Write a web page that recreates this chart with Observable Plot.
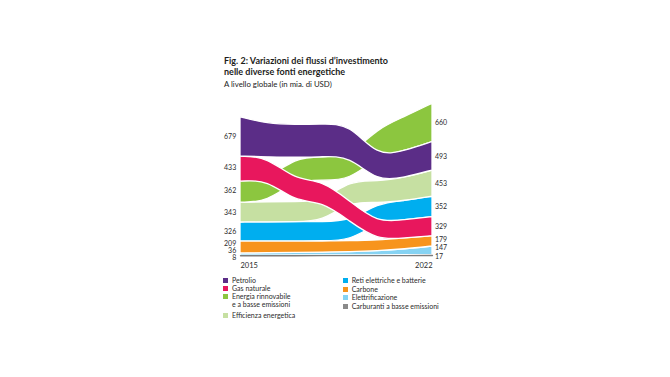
<!DOCTYPE html>
<html><head><meta charset="utf-8">
<script src="https://cdn.jsdelivr.net/npm/d3@7"></script>
<script src="https://cdn.jsdelivr.net/npm/@observablehq/plot@0.6"></script>
<style>
body{margin:0;background:#fff;font-family:Lato,"Open Sans",sans-serif;}
#wrap{position:relative;width:670px;height:377px;overflow:hidden;background:#fff}
.t{position:absolute;left:224px;color:#1d1d1b;white-space:nowrap}
#title{top:54.6px;font-weight:700;font-size:9px;line-height:11px}
#sub{top:79.5px;font-size:7.8px;line-height:9px;color:#222}
#chart{position:absolute;left:0;top:92px}
#chart svg{background:transparent;overflow:visible}
.lg{position:absolute;font-size:7px;color:#2b2b2b;line-height:7px;white-space:nowrap}
.sw{position:absolute;width:5px;height:5px}
</style></head><body>
<div id="wrap">
  <div id="title" class="t">Fig. 2: Variazioni dei flussi d’investimento<br>nelle diverse fonti energetiche</div>
  <div id="sub" class="t">A livello globale (in mia. di USD)</div>
  <div id="chart"></div>
  <div id="legend"></div>
</div>
<script>
// ---- data (mia. di USD) ----
const years = [2015, 2016, 2017, 2018, 2019, 2020, 2021, 2022];
const categories = [
  "Petrolio", "Gas naturale", "Energia rinnovabile e a basse emissioni", "Efficienza energetica",
  "Reti elettriche e batterie", "Carbone", "Elettrificazione", "Carburanti a basse emissioni"
];
const petrolio         = [679, 575, 570, 565, 560, 430, 459, 493];
const gasNaturale      = [433, 395, 375, 365, 350, 300, 316, 329];
const rinnovabile      = [362, 385, 390, 405, 415, 487, 590, 660];
const efficienza       = [343, 343, 345, 350, 362, 373, 400, 453];
const reti             = [326, 330, 330, 332, 335, 340, 330, 352];
const carbone          = [209, 205, 200, 195, 190, 185, 190, 179];
const elettrificazione = [36, 40, 45, 50, 55, 70, 100, 147];
const carburanti       = [8, 8, 9, 10, 10, 10, 14, 17];
const yearLabels = [2015, 2022];

// styles
const colors = ["#5b2d87", "#e8175d", "#8cc63f", "#c6e0a2", "#00aeef", "#f7941d", "#86d3f3", "#8a8a8a"];
const legendLeft = [
  {i: 0, lines: ["Petrolio"], y: 280.8},
  {i: 1, lines: ["Gas naturale"], y: 288.8},
  {i: 2, lines: ["Energia rinnovabile", "e a basse emissioni"], y: 296.8},
  {i: 3, lines: ["Efficienza energetica"], y: 315.3}
];
const legendRight = [
  {i: 4, lines: ["Reti elettriche e batterie"], y: 280.8},
  {i: 5, lines: ["Carbone"], y: 289.3},
  {i: 6, lines: ["Elettrificazione"], y: 297.7},
  {i: 7, lines: ["Carburanti a basse emissioni"], y: 306.3}
];

// ---- per-year ribbon stacking (largest on top) ----
const series = [petrolio, gasNaturale, rinnovabile, efficienza, reti, carbone, elettrificazione, carburanti];
const rows = [];
years.forEach((yr, i) => {
  const vals = categories.map((c, k) => ({cat: c, year: yr, value: series[k][i], k}));
  const sorted = vals.slice().sort((a, b) => a.value - b.value);
  let acc = 0;
  for (const v of sorted) { v.y1 = acc; acc += v.value; v.y2 = acc; v.mid = (v.y1 + v.y2) / 2; }
  rows.push(...vals);
});
// draw order: bottom categories first, Petrolio last (on top at crossings)
rows.sort((a, b) => (b.k - a.k) || (a.year - b.year));

const W = 670, H = 180;
const yTop = 11.3, yBottom = 163.5;
const maxTotal = d3.max(years.map((_, i) => d3.sum(series, s => s[i])));

const leftNudge = {"Gas naturale": -1, "Energia rinnovabile e a basse emissioni": -1.5, "Carbone": -3.6, "Elettrificazione": -3.7, "Carburanti a basse emissioni": 2};
const rightNudge = {"Carbone": -1.8, "Elettrificazione": -2.6, "Carburanti a basse emissioni": 1};

const labelMarks = (yr, anchor, dx, nudge) => categories.map(c =>
  Plot.text(rows.filter(d => d.year === yr && d.cat === c), {
    x: "year", y: "mid", text: d => String(d.value), textAnchor: anchor, dx, dy: nudge[c] || 0,
    fontSize: 7, fill: "#2b2b2b", fontFamily: "Lato"
  })
);

const plot = Plot.plot({
  width: W, height: H,
  marginLeft: 240, marginRight: W - 432, marginTop: yTop, marginBottom: H - yBottom,
  x: {type: "linear", domain: [years[0], years[years.length - 1]], axis: null},
  y: {domain: [0, maxTotal], axis: null},
  color: {domain: categories, range: colors},
  style: {background: "transparent", fontFamily: "Lato"},
  marks: [
    Plot.areaY(rows, {x: "year", y1: "y1", y2: "y2", z: "cat", fill: "cat",
      stroke: "white", strokeWidth: 1.3, curve: "basis"}),
    Plot.lineY(rows.filter(d => d.cat === categories[7]), {x: "year", y: "mid",
      stroke: "#7d7d7d", strokeWidth: 1.3, curve: "basis"}),
    ...labelMarks(years[0], "end", -4.3, leftNudge),
    ...labelMarks(years[years.length - 1], "start", 2.5, rightNudge),
    Plot.text([yearLabels[0]], {x: d => d, y: 0, text: d => String(d), textAnchor: "start", dy: 9.5,
      fontSize: 7.5, fill: "#2b2b2b"}),
    Plot.text([yearLabels[1]], {x: d => d, y: 0, text: d => String(d), textAnchor: "end", dy: 9.5,
      fontSize: 7.5, fill: "#2b2b2b"})
  ]
});
document.getElementById("chart").appendChild(plot);

// ---- legend ----
const lg = document.getElementById("legend");
function addItems(items, sx, tx) {
  for (const it of items) {
    const sw = document.createElement("div");
    sw.className = "sw";
    sw.style.left = sx + "px";
    sw.style.top = (it.y - 2.5) + "px";
    sw.style.background = colors[it.i];
    lg.appendChild(sw);
    it.lines.forEach((line, j) => {
      const t = document.createElement("div");
      t.className = "lg";
      t.style.left = tx + "px";
      t.style.top = (it.y - 3.5 + j * 7.8) + "px";
      t.textContent = line;
      lg.appendChild(t);
    });
  }
}
addItems(legendLeft, 223, 232);
addItems(legendRight, 343, 351.7);
</script>
</body></html>
